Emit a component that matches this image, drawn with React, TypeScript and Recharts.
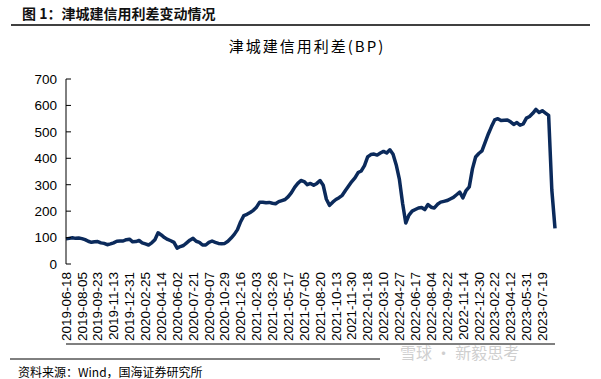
import { LineChart, Line, XAxis, YAxis } from "recharts"

const dateLabels = [
  "2019-06-18", "2019-08-05", "2019-09-23", "2019-11-13", "2019-12-31",
  "2020-02-25", "2020-04-14", "2020-06-02", "2020-07-21", "2020-09-07",
  "2020-10-29", "2020-12-16", "2021-02-03", "2021-03-26", "2021-05-17",
  "2021-07-05", "2021-08-20", "2021-10-13", "2021-11-30", "2022-01-18",
  "2022-03-10", "2022-04-27", "2022-06-17", "2022-08-04", "2022-09-22",
  "2022-11-14", "2022-12-30", "2023-02-22", "2023-04-12", "2023-05-31",
  "2023-07-19",
]

// spread in BP, 5 readings between two date labels
const spreadBp = [
  95, 97, 99, 97, 98, 96, 92, 86, 82, 84,
  85, 80, 78, 73, 76, 80, 86, 87, 87, 92,
  94, 84, 85, 89, 80, 76, 72, 80, 92, 118,
  110, 100, 93, 88, 82, 60, 66, 70, 80, 90,
  97, 86, 82, 72, 72, 82, 87, 82, 78, 77,
  78, 86, 98, 112, 130, 160, 183, 188, 195, 203,
  215, 234, 234, 232, 233, 230, 228, 236, 240, 244,
  255, 270, 290, 305, 316, 312, 300, 305, 298, 305,
  316, 298, 245, 222, 234, 244, 251, 260, 278, 295,
  312, 326, 346, 352, 372, 405, 414, 416, 412, 420,
  426, 420, 432, 415, 375, 320, 230, 155, 185, 200,
  206, 212, 214, 206, 225, 215, 212, 226, 234, 237,
  240, 246, 252, 262, 272, 250, 278, 292, 360, 405,
  418, 428, 460, 492, 520, 545, 550, 543, 544, 545,
  538, 528, 535, 525, 530, 552, 558, 570, 585, 573,
  580, 571, 562, 280, 135,
]

const yTicks = [0, 100, 200, 300, 400, 500, 600, 700]

const PER_LABEL = 5
const lastIndex = spreadBp.length - 1
const data = spreadBp.map((v, i) => ({ i, v }))
const labelTicks = dateLabels.map((_, k) => k * PER_LABEL)
const markTicks = Array.from({ length: 52 }, (_, k) => (k + 1) * 2.93)

const axisFont = "'Liberation Sans', Arial, sans-serif"
const cjkFont = "'Noto Sans CJK SC', 'Noto Sans', sans-serif"

function DateTick({ x, y, payload }: any) {
  const label = dateLabels[Math.round(payload.value / PER_LABEL)]
  return (
    <text
      x={x}
      y={y}
      transform={`rotate(-90 ${x} ${y})`}
      textAnchor="end"
      dy="0.35em"
      fontSize={13.5}
      fontFamily={axisFont}
      fill="#000"
    >
      {label}
    </text>
  )
}

export default function App() {
  return (
    <div style={{ position: "absolute", left: 0, top: 0, width: 601, height: 379, background: "#fff", overflow: "hidden" }}>
      <LineChart
        width={601}
        height={379}
        data={data}
        margin={{ top: 79, right: 46, left: 6, bottom: 34 }}
      >
        <XAxis
          xAxisId="marks"
          dataKey="i"
          type="number"
          domain={[0, lastIndex]}
          ticks={markTicks}
          interval={0}
          height={1}
          tick={false}
          tickSize={-5}
          axisLine={{ stroke: "#000", strokeWidth: 1 }}
          tickLine={{ stroke: "#000", strokeWidth: 1 }}
        />
        <XAxis
          xAxisId="labels"
          dataKey="i"
          type="number"
          domain={[0, lastIndex]}
          ticks={labelTicks}
          interval={0}
          height={80}
          tickLine={false}
          axisLine={false}
          tick={<DateTick />}
        />
        <YAxis
          domain={[0, 700]}
          ticks={yTicks}
          interval={0}
          width={60}
          tickSize={-5}
          tickMargin={14}
          axisLine={{ stroke: "#000", strokeWidth: 1 }}
          tickLine={{ stroke: "#000", strokeWidth: 1 }}
          tick={{ fontSize: 13.5, fill: "#000", fontFamily: axisFont }}
        />
        <Line
          xAxisId="labels"
          type="linear"
          dataKey="v"
          stroke="#0b2a5b"
          strokeWidth={3.5}
          strokeLinejoin="round"
          dot={false}
          isAnimationActive={false}
        />
      </LineChart>
      <svg width={601} height={379} style={{ position: "absolute", left: 0, top: 0, pointerEvents: "none" }}>
        <text x={22} y={19} fontSize={14} fontWeight="bold" fontFamily={cjkFont} fill="#111">
          图 1：津城建信用利差变动情况
        </text>
        <line x1={11} y1={25} x2={590} y2={25} stroke="#000" strokeWidth={1.5} />
        <text x={307} y={52} textAnchor="middle" fontSize={15} letterSpacing={2} fontFamily={cjkFont} fill="#000">
          津城建信用利差(BP)
        </text>
        <line x1={10} y1={359} x2={380} y2={359} stroke="#000" strokeWidth={1} />
        <text x={18} y={377} fontSize={12} fontFamily={cjkFont} fill="#000">
          资料来源：Wind，国海证券研究所
        </text>
        <text x={400} y={359} fontSize={16} fontFamily={cjkFont} fill="#cfcfcf">
          雪球 · 新毅思考
        </text>
      </svg>
    </div>
  )
}
